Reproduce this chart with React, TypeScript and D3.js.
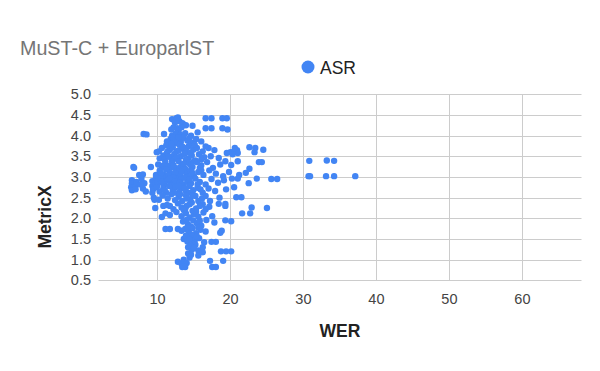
import React from "react";
import { scaleLinear } from "d3";

const title = "MuST-C + EuroparlST";
const seriesName = "ASR";
const xTicks = [10, 20, 30, 40, 50, 60];
const yTicks = [0.5, 1.0, 1.5, 2.0, 2.5, 3.0, 3.5, 4.0, 4.5, 5.0];

// [WER, MetricX]
const asrLeft = [
  [6.5, 2.92], [6.5, 2.85], [6.4, 2.75], [6.6, 2.7], [7.0, 2.78], [7.1, 2.88], [6.7, 3.24], [6.8, 3.22],
  [6.5, 2.68], [7.0, 2.7], [7.5, 3.05], [8.0, 3.06], [8.1, 4.04], [8.5, 4.03], [7.8, 2.95], [8.2, 2.85],
  [8.0, 2.72], [8.4, 2.65], [7.7, 2.82], [9.1, 3.24], [9.3, 2.9], [9.3, 2.78], [9.3, 2.62], [9.4, 2.7],
  [9.7, 2.25], [9.5, 2.5], [9.8, 3.0], [9.9, 2.9], [9.6, 2.45], [9.9, 3.6], [10.0, 2.8], [9.7, 2.85],
];

const asrTop = [
  [12.0, 4.4], [12.3, 4.38], [12.6, 4.42], [13.0, 4.35], [13.4, 4.3], [12.4, 4.32], [16.6, 4.42], [17.4, 4.42],
  [18.9, 4.42], [19.5, 4.42], [12.8, 4.44], [12.2, 4.2], [12.7, 4.18], [13.5, 4.28], [13.9, 4.25], [11.9, 4.15],
  [12.9, 4.12], [16.6, 4.18], [17.4, 4.18], [18.9, 4.18], [19.6, 4.15], [13.3, 4.2], [14.8, 4.24],
  [10.9, 4.04], [12.0, 4.0], [12.5, 4.05], [13.1, 4.02], [13.8, 4.06], [14.6, 4.0], [15.5, 4.08],
  [11.8, 3.92], [12.2, 3.95], [12.7, 3.9], [13.2, 3.85], [13.6, 3.95], [14.1, 3.88], [14.8, 3.82], [15.3, 3.92],
  [16.0, 3.86], [12.5, 3.82], [11.6, 3.8], [12.9, 3.96], [14.4, 3.94], [11.3, 3.86],
];

const asrMiddle = [
  [10.6, 3.7], [11.2, 3.76], [11.7, 3.66], [12.1, 3.72], [12.6, 3.62], [13.0, 3.78], [13.5, 3.68], [13.9, 3.6],
  [14.3, 3.75], [14.9, 3.66], [15.4, 3.7], [16.2, 3.62], [17.0, 3.7], [17.8, 3.65], [12.9, 3.64], [13.4, 3.74],
  [11.4, 3.62], [10.2, 3.62], [20.0, 3.6], [20.5, 3.62], [20.9, 3.65], [20.6, 3.7], [21.0, 3.58], [22.6, 3.72],
  [23.4, 3.7], [23.3, 3.6], [24.5, 3.66], [20.3, 3.55], [11.9, 3.8], [14.0, 3.7], [15.1, 3.78], [16.6, 3.74],
  [10.3, 3.45], [10.8, 3.52], [11.3, 3.58], [11.8, 3.48], [12.3, 3.55], [12.8, 3.42], [13.2, 3.5], [13.7, 3.56],
  [14.2, 3.45], [14.7, 3.52], [15.2, 3.4], [15.7, 3.55], [16.4, 3.48], [17.3, 3.5], [18.4, 3.46], [19.5, 3.58],
  [11.0, 3.42], [12.0, 3.4], [13.9, 3.42], [12.6, 3.48], [14.5, 3.58], [16.0, 3.42], [11.5, 3.5],
  [10.1, 3.3], [10.6, 3.22], [11.1, 3.36], [11.5, 3.26], [12.0, 3.32], [12.4, 3.22], [12.9, 3.38], [13.3, 3.28],
  [13.8, 3.2], [14.3, 3.34], [14.8, 3.24], [15.4, 3.36], [16.0, 3.28], [16.8, 3.36], [17.6, 3.22], [18.6, 3.3],
  [19.3, 3.38], [20.1, 3.29], [22.6, 3.2], [23.9, 3.36], [24.3, 3.36], [21.0, 3.38], [11.8, 3.22], [13.0, 3.22],
  [15.0, 3.38], [12.2, 3.28], [13.6, 3.32], [14.6, 3.28], [15.8, 3.22], [10.8, 3.28],
  [9.8, 3.05], [10.3, 3.15], [10.8, 3.06], [11.2, 3.18], [11.7, 3.1], [12.1, 3.02], [12.6, 3.14], [13.1, 3.05],
  [13.5, 3.18], [14.0, 3.08], [14.5, 3.15], [15.0, 3.02], [15.6, 3.12], [16.3, 3.05], [17.1, 3.16], [18.0, 3.08],
  [19.0, 3.02], [19.8, 3.12], [21.2, 3.05], [22.1, 3.1], [11.0, 3.0], [12.9, 3.0], [14.2, 3.0],
  [11.5, 3.04], [12.4, 3.1], [13.3, 3.12], [14.8, 3.1], [16.0, 3.16], [10.5, 3.08],
  [10.0, 2.85], [10.4, 2.95], [10.9, 2.82], [11.3, 2.92], [11.8, 2.86], [12.2, 2.98], [12.7, 2.84], [13.2, 2.94],
  [13.6, 2.82], [14.1, 2.9], [14.6, 2.85], [15.2, 2.96], [15.8, 2.88], [16.6, 2.82], [17.4, 2.95], [18.3, 2.86],
  [19.1, 2.92], [20.2, 2.96], [21.0, 2.96], [22.5, 2.85], [23.6, 2.96], [25.6, 2.95], [26.4, 2.95], [10.6, 2.88],
  [12.0, 2.8], [13.8, 2.98], [12.5, 2.9], [13.0, 2.86], [14.4, 2.94], [15.5, 2.82], [11.6, 2.96],
  [9.9, 2.75], [10.3, 2.65], [10.8, 2.72], [11.2, 2.62], [11.6, 2.78], [12.1, 2.68], [12.5, 2.76], [13.0, 2.64],
  [13.4, 2.74], [13.9, 2.66], [14.4, 2.78], [14.9, 2.68], [15.5, 2.74], [16.2, 2.62], [17.0, 2.72], [17.9, 2.66],
  [19.4, 2.7], [20.5, 2.75], [12.9, 2.78], [11.0, 2.68], [12.3, 2.62], [13.7, 2.72], [14.6, 2.62], [15.9, 2.7],
];

const asrLow = [
  [10.2, 2.45], [10.7, 2.55], [11.4, 2.48], [11.9, 2.58], [12.4, 2.44], [12.9, 2.52], [13.4, 2.42], [13.9, 2.56],
  [14.5, 2.46], [15.2, 2.54], [16.1, 2.48], [17.2, 2.42], [18.5, 2.5], [20.8, 2.51], [21.5, 2.51], [14.0, 2.48],
  [15.6, 2.42], [13.1, 2.58], [14.8, 2.56], [16.6, 2.54],
  [10.8, 2.3], [11.3, 2.32], [11.7, 2.3], [12.2, 2.22], [12.8, 2.36], [13.3, 2.26], [14.0, 2.3], [14.7, 2.38],
  [15.3, 2.24], [16.2, 2.34], [17.1, 2.28], [18.4, 2.35], [19.3, 2.3], [19.3, 2.35], [22.9, 2.26], [25.0, 2.25],
  [13.8, 2.22], [15.8, 2.3], [14.4, 2.34], [16.6, 2.22],
  [10.6, 2.03], [11.1, 2.12], [11.7, 2.08], [12.6, 2.15], [13.3, 2.05], [13.9, 2.12], [14.4, 2.02], [15.0, 2.1],
  [15.6, 2.04], [16.3, 2.14], [17.5, 2.05], [21.6, 2.12], [22.7, 2.12], [14.8, 2.18], [13.6, 2.2], [15.3, 2.16],
  [13.5, 1.92], [14.2, 1.85], [14.9, 1.95], [15.4, 1.88], [16.0, 1.82], [16.7, 1.96], [17.8, 1.9], [19.3, 1.95],
  [20.1, 1.93], [14.6, 1.8], [15.8, 1.94], [14.0, 1.96],
  [11.1, 1.74], [11.7, 1.74], [12.8, 1.74], [13.3, 1.7], [13.8, 1.74], [14.3, 1.66], [14.8, 1.76], [15.3, 1.64],
  [15.9, 1.72], [16.6, 1.68], [18.6, 1.65], [18.8, 1.7], [14.1, 1.78], [15.6, 1.78],
  [13.6, 1.5], [14.1, 1.44], [14.6, 1.56], [15.1, 1.46], [15.7, 1.52], [16.4, 1.42], [17.4, 1.43], [18.0, 1.43],
  [14.9, 1.6], [13.9, 1.58], [14.4, 1.48], [15.4, 1.56],
  [14.2, 1.3], [14.7, 1.24], [15.2, 1.36], [15.6, 1.22], [16.2, 1.3], [16.2, 1.18], [18.7, 1.2], [19.4, 1.2],
  [20.1, 1.2], [14.9, 1.38], [14.5, 1.34], [15.0, 1.28],
  [12.8, 0.95], [13.3, 0.9], [13.6, 1.0], [14.0, 0.92], [13.4, 0.82], [13.8, 0.82], [14.4, 1.05], [14.6, 1.12],
  [17.2, 0.97], [17.5, 0.82], [18.0, 0.82], [19.0, 0.97], [15.6, 1.1], [14.2, 1.15],
];

const asrFar = [
  [30.8, 3.39], [33.2, 3.4], [34.2, 3.39], [30.7, 3.02], [30.9, 3.02], [33.1, 3.02], [34.2, 3.02], [37.1, 3.02],
];

const asrPoints = [...asrLeft, ...asrTop, ...asrMiddle, ...asrLow, ...asrFar];

const blue = "#4285f4";
const font = "'Liberation Sans', Arial, sans-serif";

export default function App() {
  const width = 600;
  const height = 371;

  const x = scaleLinear().domain([1.92, 68.1]).range([98.5, 581.5]);
  const y = scaleLinear().domain([0.5, 5.0]).range([280.3, 94.3]);

  return (
    <div>
      <style>{`body{margin:0}`}</style>
      <svg width={width} height={height} style={{ display: "block", background: "#fff" }}>
        <text x={20} y={55} fontFamily={font} fontSize={19.7} fill="#757575">{title}</text>

        <circle cx={308} cy={67} r={6.5} fill={blue} />
        <text x={320} y={74} fontFamily={font} fontSize={17.5} fill="#222">{seriesName}</text>

        {yTicks.map(t => (
          <g key={t}>
            <line x1={x.range()[0]} x2={x.range()[1]} y1={Math.round(y(t)) + 0.5} y2={Math.round(y(t)) + 0.5} stroke="#cccccc" />
            <text x={91} y={y(t) + 5} textAnchor="end" fontFamily={font} fontSize={14.5} fill="#444">{t.toFixed(1)}</text>
          </g>
        ))}
        {xTicks.map(t => (
          <g key={t}>
            <line x1={Math.round(x(t)) + 0.5} x2={Math.round(x(t)) + 0.5} y1={y.range()[1]} y2={y.range()[0]} stroke="#cccccc" />
            <text x={x(t)} y={304} textAnchor="middle" fontFamily={font} fontSize={14.5} fill="#444">{t}</text>
          </g>
        ))}

        {asrPoints.map((d, i) => (
          <circle key={i} cx={x(d[0])} cy={y(d[1])} r={3.2} fill={blue} />
        ))}

        <text x={340} y={337} textAnchor="middle" fontFamily={font} fontSize={17.5} fontWeight="bold" fill="#222">WER</text>
        <text transform={`translate(51, 217) rotate(-90)`} textAnchor="middle" fontFamily={font} fontSize={17.5} fontWeight="bold" fill="#222">MetricX</text>
      </svg>
    </div>
  );
}
